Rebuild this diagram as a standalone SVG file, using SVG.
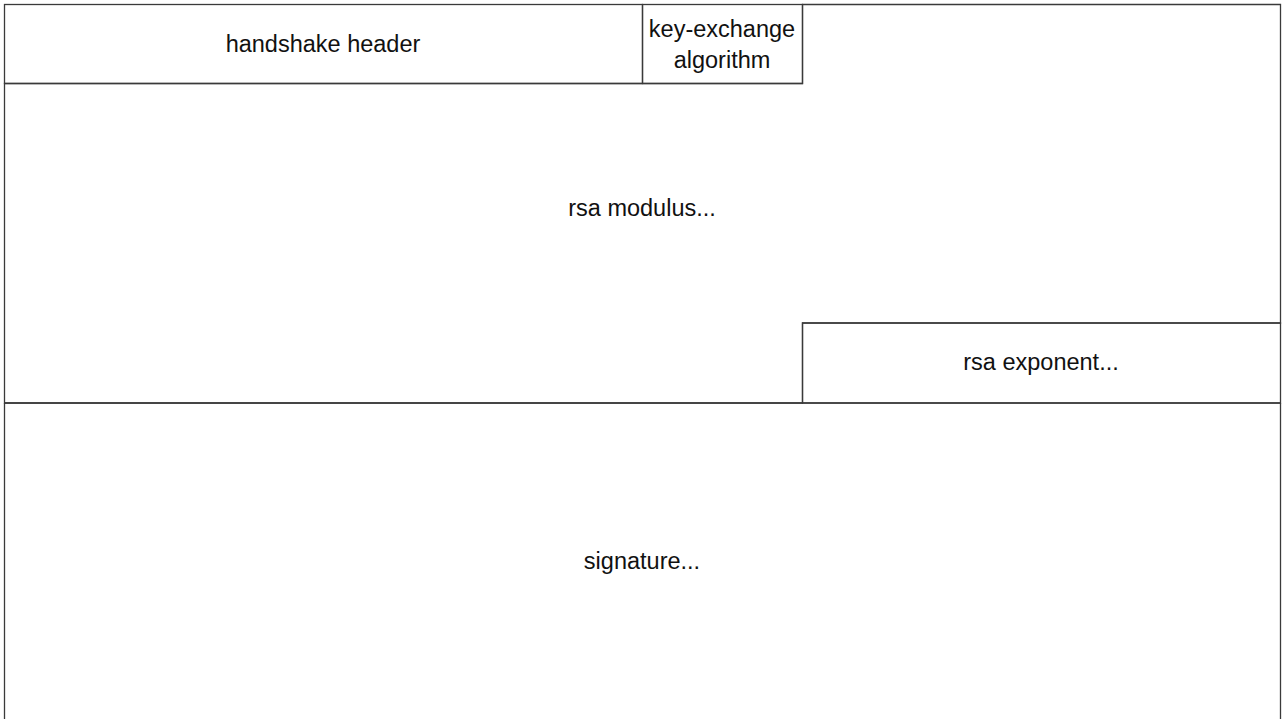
<svg xmlns="http://www.w3.org/2000/svg" width="1285" height="719" viewBox="0 0 1285 719">
<style>
.b{fill:none;stroke:#3a3a3a;stroke-width:1.3}
text{font-family:"Liberation Sans",Arial,sans-serif;font-size:23.5px;fill:#111;text-anchor:middle}
</style>
<rect width="1285" height="719" fill="#fff"/>
<g id="handshake-header">
<rect class="b" x="4.5" y="4.5" width="638" height="79"/>
<text x="323" y="52">handshake header</text>
</g>
<g id="key-exchange">
<rect class="b" x="642.5" y="4.5" width="160" height="79"/>
<text x="722" y="37">key-exchange</text>
<text x="722" y="68">algorithm</text>
</g>
<g id="rsa-modulus">
<path class="b" d="M802.5 4.5 H1280.5 V323 H802.5 V403 H4.5 V83.5 H802.5 Z"/>
<text x="642" y="216">rsa modulus...</text>
</g>
<g id="rsa-exponent">
<rect class="b" x="802.5" y="323" width="478" height="80"/>
<text x="1041" y="370">rsa exponent...</text>
</g>
<g id="signature">
<path class="b" d="M4.5 403 V730 M1280.5 403 V730 M4.5 403 H1280.5"/>
<text x="642" y="569">signature...</text>
</g>
<g id="connectors"/>
</svg>
